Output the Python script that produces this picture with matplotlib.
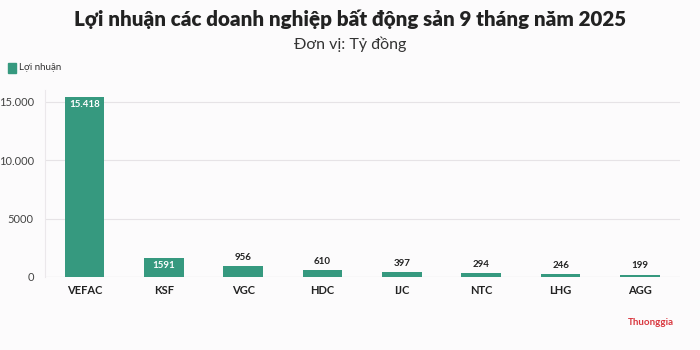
import matplotlib.pyplot as plt
from matplotlib.patches import Rectangle

# -----------------------------
# DATA
# -----------------------------
companies = ["VEFAC", "KSF", "VGC", "HDC", "IJC", "NTC", "LHG", "AGG"]
profits = [15418, 1591, 956, 610, 397, 294, 246, 199]
value_labels = ["15.418", "1591", "956", "610", "397", "294", "246", "199"]
y_ticks = [0, 5000, 10000, 15000]
y_tick_labels = ["0", "5000", "10.000", "15.000"]

BAR_COLOR = "#36997f"
BG = "#fcfbfc"
plt.rcParams['font.family'] = ['Lato', 'DejaVu Sans']

fig = plt.figure(figsize=(7, 3.5), dpi=100, facecolor=BG)
ax = fig.add_axes([0.064, 0.209, 0.907, 0.533], facecolor=BG)

x = list(range(len(companies)))
bars = ax.bar(x, profits, width=0.5, color=BAR_COLOR, zorder=3)

# value labels: inside for the tall bars, above for the rest
for i, (b, lab) in enumerate(zip(bars, value_labels)):
    h = b.get_height()
    cx = b.get_x() + b.get_width() / 2
    if i < 2:
        ax.text(cx, h - 250, lab, ha='center', va='top', fontsize=7,
                fontweight='bold', color='white', zorder=4)
    else:
        ax.text(cx, h + 350, lab, ha='center', va='bottom', fontsize=7,
                fontweight='bold', color='#222222', zorder=4)

ax.set_xlim(-0.5, len(companies) - 0.5)
ax.set_ylim(0, 16000)
ax.set_yticks(y_ticks)
ax.set_yticklabels(y_tick_labels)
ax.set_xticks(x)
ax.set_xticklabels(companies, fontweight='bold')
ax.tick_params(axis='y', length=0, labelsize=8, colors='#444444', pad=8)
ax.tick_params(axis='x', length=0, labelsize=8, colors='#222222', pad=6)
ax.grid(axis='y', color='#e6e3e6', linewidth=0.8, zorder=0)

for side in ['top', 'right', 'bottom']:
    ax.spines[side].set_visible(False)
ax.spines['left'].set_color('#ebe8eb')
ax.spines['left'].set_linewidth(0.8)
ax.axhline(0, color='#d8d5d8', linewidth=0.8, zorder=2)

# titles
fig.text(0.5, 0.945, "Lợi nhuận các doanh nghiệp bất động sản 9 tháng năm 2025",
         ha='center', va='center', fontsize=14.8, fontweight='heavy', color='#222222')
fig.text(0.5, 0.875, "Đơn vị: Tỷ đồng", ha='center', va='center',
         fontsize=11.5, color='#333333')

# legend
fig.patches.append(Rectangle((8 / 700, 1 - 73 / 350), 8 / 700, 10 / 350,
                             transform=fig.transFigure, color=BAR_COLOR))
fig.text(19 / 700, 1 - 68 / 350, "Lợi nhuận", ha='left', va='center',
         fontsize=7, color='#333333')

# watermark
fig.text(0.93, 0.078, "Thuonggia", ha='center', va='center', fontsize=7,
         color='#d9363e', fontweight='bold', fontstretch='condensed')

fig.savefig("out.png", dpi=100, facecolor=BG)
